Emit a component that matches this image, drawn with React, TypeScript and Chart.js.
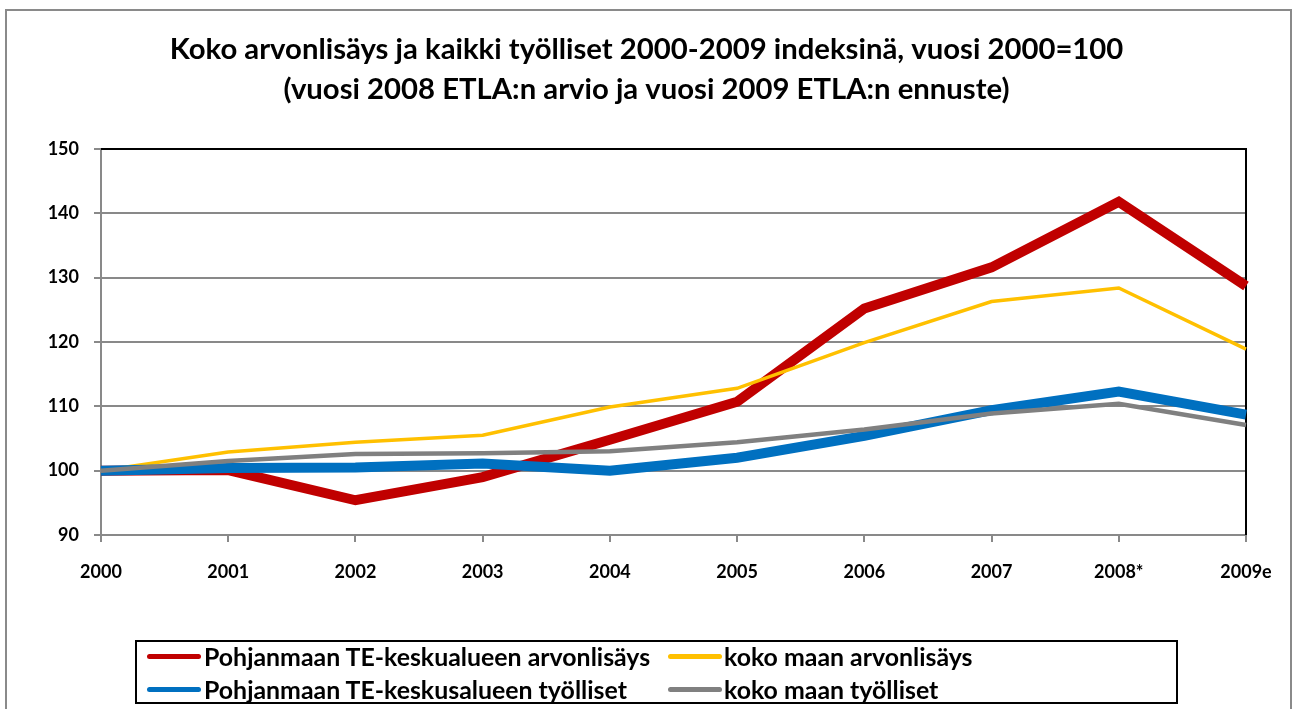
import React, { useEffect, useRef, useMemo } from 'react';
import { Chart, registerables } from 'chart.js';

Chart.register(...registerables);

const categories = ['2000', '2001', '2002', '2003', '2004', '2005', '2006', '2007', '2008*', '2009e'];

const titleLines = [
  'Koko arvonlisäys ja kaikki työlliset 2000-2009 indeksinä, vuosi 2000=100',
  '(vuosi 2008 ETLA:n arvio ja vuosi 2009 ETLA:n ennuste)',
];

const redName = 'Pohjanmaan TE-keskualueen arvonlisäys';
const yellowName = 'koko maan arvonlisäys';
const blueName = 'Pohjanmaan TE-keskusalueen työlliset';
const grayName = 'koko maan työlliset';

const redValues = [100, 100.1, 95.4, 99.0, 104.8, 110.7, 125.2, 131.6, 141.8, 128.7];
const yellowValues = [100, 102.9, 104.4, 105.5, 109.9, 112.8, 119.9, 126.3, 128.4, 118.9];
const blueValues = [100, 100.4, 100.5, 101.1, 100.0, 102.0, 105.4, 109.4, 112.3, 108.7];
const grayValues = [100, 101.5, 102.6, 102.7, 103.0, 104.4, 106.4, 108.9, 110.4, 107.1];

const yMin = 90;
const yMax = 150;
const yStep = 10;

const FONT = 'Lato, "Open Sans", sans-serif';

function fitSize(text: string, width: number): number {
  const ctx = document.createElement('canvas').getContext('2d');
  if (!ctx) return 20;
  ctx.font = `bold 100px ${FONT}`;
  return (100 * width) / ctx.measureText(text).width;
}

const frameBorder = {
  id: 'frameBorder',
  beforeDatasetsDraw(chart: any) {
    const { ctx, chartArea } = chart;
    ctx.save();
    ctx.strokeStyle = '#000000';
    ctx.lineWidth = 2;
    ctx.beginPath();
    ctx.moveTo(chartArea.left, chartArea.top);
    ctx.lineTo(chartArea.right, chartArea.top);
    ctx.lineTo(chartArea.right, chartArea.bottom);
    ctx.stroke();
    ctx.restore();
  },
};

export default function App() {
  const canvasRef = useRef<HTMLCanvasElement | null>(null);

  const titleSize = useMemo(() => fitSize(titleLines[0], 954), []);
  const legendSize = useMemo(() => fitSize(redName, 447), []);

  useEffect(() => {
    if (!canvasRef.current) return;
    const chart = new Chart(canvasRef.current, {
      type: 'line',
      data: {
        labels: categories,
        datasets: [
          { label: redName, data: redValues, borderColor: '#C00000', borderWidth: 10, order: 4 },
          { label: yellowName, data: yellowValues, borderColor: '#FFC000', borderWidth: 3.5, order: 3 },
          { label: blueName, data: blueValues, borderColor: '#0070C0', borderWidth: 10, order: 2 },
          { label: grayName, data: grayValues, borderColor: '#808080', borderWidth: 4.5, order: 1 },
        ].map((d) => ({
          ...d,
          fill: false,
          tension: 0,
          pointRadius: 0,
          pointHoverRadius: 0,
          borderJoinStyle: 'miter' as const,
          backgroundColor: d.borderColor,
        })),
      },
      options: {
        animation: false,
        responsive: false,
        devicePixelRatio: 1,
        layout: { padding: { top: 10, left: 47, right: 47, bottom: 114 } },
        plugins: {
          legend: { display: false },
          tooltip: { enabled: false },
          title: {
            display: true,
            text: titleLines,
            color: '#000000',
            font: { family: FONT, weight: 'bold', size: titleSize, lineHeight: '40px' as any },
            padding: { top: 20, bottom: 39 },
          },
        },
        scales: {
          x: {
            type: 'category',
            offset: false,
            afterFit: (s: any) => {
              s.height = 60;
            },
            grid: {
              display: true,
              drawOnChartArea: false,
              drawTicks: true,
              tickLength: 7,
              color: '#898989',
              lineWidth: 2,
            },
            border: { display: true, color: '#898989', width: 2 },
            ticks: {
              color: '#000000',
              font: { family: FONT, weight: 'bold', size: 18 },
              padding: 19,
              maxRotation: 0,
              autoSkip: false,
            },
          },
          y: {
            min: yMin,
            max: yMax,
            afterFit: (s: any) => {
              s.width = 54;
            },
            grid: {
              color: '#898989',
              lineWidth: 2,
              tickLength: 7,
              drawTicks: true,
            },
            border: { display: true, color: '#898989', width: 2 },
            ticks: {
              stepSize: yStep,
              color: '#000000',
              font: { family: FONT, weight: 'bold', size: 18 },
              padding: 15,
            },
          },
        },
      },
      plugins: [frameBorder],
    });
    return () => chart.destroy();
  }, [titleSize]);

  const legendItems = [
    { name: redName, color: '#C00000', lineX: 147, textX: 204, y: 656 },
    { name: yellowName, color: '#FFC000', lineX: 668, textX: 724, y: 656 },
    { name: blueName, color: '#0070C0', lineX: 147, textX: 204, y: 689 },
    { name: grayName, color: '#808080', lineX: 668, textX: 724, y: 689 },
  ];

  return (
    <div
      style={{
        position: 'fixed',
        left: 0,
        top: 0,
        width: 1293,
        height: 709,
        background: '#ffffff',
        overflow: 'hidden',
      }}
    >
      <div
        style={{
          position: 'absolute',
          left: 5,
          top: 9,
          width: 1287,
          height: 800,
          boxSizing: 'border-box',
          border: '2px solid #8a8a8a',
        }}
      />
      <canvas
        ref={canvasRef}
        width={1293}
        height={709}
        style={{ position: 'absolute', left: 0, top: 0, width: 1293, height: 709 }}
      />
      <div
        style={{
          position: 'absolute',
          left: 135,
          top: 640,
          width: 1043,
          height: 64,
          boxSizing: 'border-box',
          border: '2px solid #000000',
        }}
      />
      {legendItems.map((it) => (
        <React.Fragment key={it.name}>
          <div
            style={{
              position: 'absolute',
              left: it.lineX,
              top: it.y - 2.5,
              width: 54,
              height: 5,
              borderRadius: 2.5,
              background: it.color,
            }}
          />
          <div
            style={{
              position: 'absolute',
              left: it.textX,
              top: it.y - 15,
              height: 30,
              lineHeight: '30px',
              fontFamily: FONT,
              fontWeight: 'bold',
              fontSize: legendSize,
              color: '#000000',
              whiteSpace: 'nowrap',
            }}
          >
            {it.name}
          </div>
        </React.Fragment>
      ))}
    </div>
  );
}
